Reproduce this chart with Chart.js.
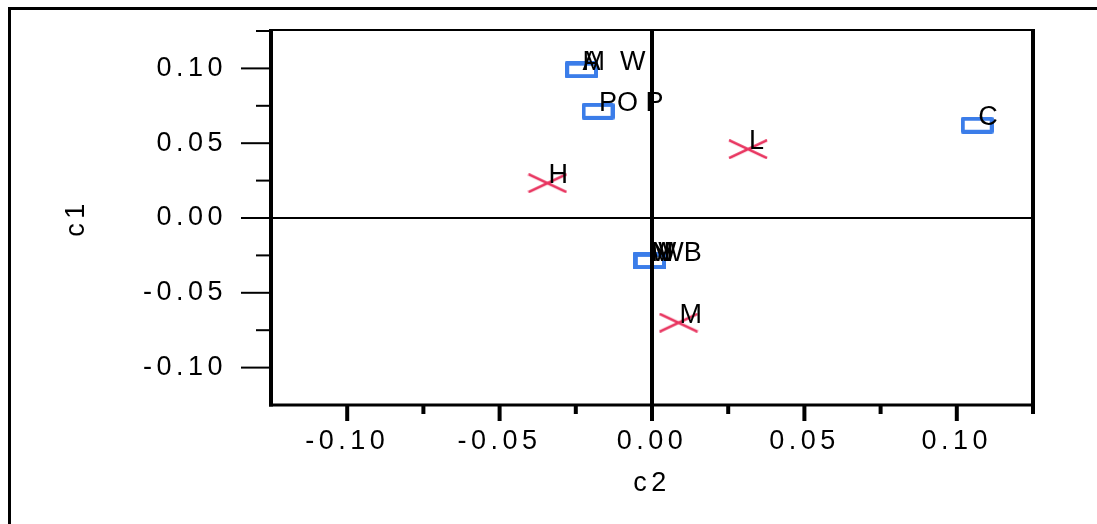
<!DOCTYPE html>
<html>
<head>
<meta charset="utf-8">
<script src="https://cdn.jsdelivr.net/npm/chart.js@4.4.1/dist/chart.umd.min.js"></script>
<style>
  html, body { margin: 0; padding: 0; background: #fff; overflow: hidden; }
  #wrap { position: relative; width: 1097px; height: 524px; }
  #frame { position: absolute; left: 8px; top: 7px; width: 2000px; height: 2000px;
           border-left: 3px solid #000; border-top: 3px solid #000; pointer-events: none; }
</style>
</head>
<body>
<div id="wrap">
  <canvas id="chart"></canvas>
  <div id="frame"></div>
</div>
<script>
// points drawn as blue boxes
const boxLabels = ['A', 'M  W', 'PO P', 'C', 'M', 'W', 'N', 'IWB'];
const boxX = [-0.0231, -0.0231, -0.0177, 0.1067, -0.0007, -0.0007, -0.0007, -0.0007];
const boxY = [0.0990, 0.0990, 0.0713, 0.0620, -0.0287, -0.0287, -0.0287, -0.0287];

// points drawn as red crosses
const crossLabels = ['H', 'L', 'M'];
const crossX = [-0.0343, 0.0315, 0.0087];
const crossY = [0.0233, 0.0460, -0.0700];

const axisMin = -0.125;
const axisMax = 0.125;
const tickStep = 0.025;
const xTitle = 'c2';
const yTitle = 'c1';

const FONT = "'Liberation Sans', Arial, sans-serif";

function boxMarker() {
  const c = document.createElement('canvas');
  c.width = 33; c.height = 17;
  const g = c.getContext('2d');
  g.strokeStyle = '#3b7de9';
  g.lineWidth = 4;
  g.lineJoin = 'round';
  g.strokeRect(2, 2, 29, 13);
  return c;
}

function crossMarker() {
  const c = document.createElement('canvas');
  c.width = 40; c.height = 20;
  const g = c.getContext('2d');
  g.strokeStyle = '#e8345f';
  g.lineWidth = 2.5;
  g.beginPath();
  g.moveTo(1, 1); g.lineTo(39, 19);
  g.moveTo(1, 19); g.lineTo(39, 1);
  g.stroke();
  return c;
}

function toPoints(xs, ys) {
  return xs.map((x, i) => ({ x: x, y: ys[i] }));
}

function isMajor(v) {
  return Math.abs(Math.round(v * 1000) % 50) === 0;
}

function tickText(v) {
  if (Math.abs(v) < 1e-9) return '0.00';
  if (Math.abs(Math.abs(v) - 0.125) < 1e-9) return '';
  return isMajor(v) ? v.toFixed(2) : '';
}

// letter spaced text for axes, plain text for the point labels
const spacing = {
  id: 'spacing',
  beforeDraw(chart) { chart.ctx.letterSpacing = '4.5px'; },
  beforeDatasetsDraw(chart) { chart.ctx.letterSpacing = '0px'; }
};

const axesAndLabels = {
  id: 'axesAndLabels',
  afterDatasetsDraw(chart) {
    const ctx = chart.ctx;
    const a = chart.chartArea;
    const xs = chart.scales.x, ys = chart.scales.y;
    ctx.save();
    ctx.strokeStyle = '#000';
    ctx.lineCap = 'butt';

    function line(x1, y1, x2, y2, w) {
      ctx.lineWidth = w;
      ctx.beginPath();
      ctx.moveTo(x1, y1);
      ctx.lineTo(x2, y2);
      ctx.stroke();
    }

    // zero lines
    const x0 = xs.getPixelForValue(0), y0 = ys.getPixelForValue(0);
    line(x0, a.top, x0, a.bottom, 4);
    line(a.left, y0, a.right, y0, 2);

    // frame of the plot
    line(a.left, a.top - 1, a.right, a.top - 1, 2);
    line(a.right, a.top - 2, a.right, a.bottom, 4);
    line(a.left - 2, a.bottom, a.right, a.bottom, 3);
    line(a.left, a.top - 2, a.left, a.bottom + 1.5, 4);

    // tick marks
    xs.ticks.forEach(t => {
      if (t.value <= axisMin + 1e-9) return;
      const px = xs.getPixelForValue(t.value);
      line(px, a.bottom, px, a.bottom + (isMajor(t.value) ? 16 : 9), 4);
    });
    ys.ticks.forEach(t => {
      if (t.value <= axisMin + 1e-9) return;
      const py = ys.getPixelForValue(t.value);
      line(a.left - (isMajor(t.value) ? 30 : 15), py, a.left, py, 2);
    });

    // point labels
    ctx.letterSpacing = '0px';
    ctx.fillStyle = '#000';
    ctx.font = '27px ' + FONT;
    ctx.textAlign = 'left';
    ctx.textBaseline = 'alphabetic';
    [boxLabels, crossLabels].forEach((labels, di) => {
      const meta = chart.getDatasetMeta(di);
      meta.data.forEach((pt, i) => {
        ctx.fillText(labels[i], pt.x + 1, pt.y);
      });
    });
    ctx.restore();
  }
};

new Chart(document.getElementById('chart'), {
  type: 'scatter',
  data: {
    datasets: [
      {
        data: toPoints(boxX, boxY),
        pointStyle: boxMarker(),
        pointRadius: 15
      },
      {
        data: toPoints(crossX, crossY),
        pointStyle: crossMarker(),
        pointRadius: 15
      }
    ]
  },
  options: {
    responsive: true,
    maintainAspectRatio: false,
    animation: false,
    layout: { padding: { top: 31, right: 64, left: 0, bottom: 0 } },
    plugins: { legend: { display: false }, tooltip: { enabled: false } },
    scales: {
      x: {
        type: 'linear',
        min: axisMin,
        max: axisMax,
        afterFit: s => { s.height = 119; },
        border: { display: false },
        // tick marks are drawn by the plugin, the hidden tick length only spaces the labels
        grid: { display: false, drawTicks: true, tickLength: 20 },
        ticks: {
          stepSize: tickStep,
          autoSkip: false,
          maxRotation: 0,
          padding: 0,
          color: '#000',
          font: { family: FONT, size: 27 },
          callback: v => tickText(v)
        },
        title: {
          display: true,
          text: xTitle,
          color: '#000',
          font: { family: FONT, size: 27 },
          padding: { top: 0, bottom: 24 }
        }
      },
      y: {
        type: 'linear',
        min: axisMin,
        max: axisMax,
        afterFit: s => { s.width = 271; },
        border: { display: false },
        grid: { display: false, drawTicks: true, tickLength: 44 },
        ticks: {
          stepSize: tickStep,
          autoSkip: false,
          padding: 0,
          color: '#000',
          font: { family: FONT, size: 27 },
          callback: v => tickText(v)
        },
        title: {
          display: true,
          text: yTitle,
          color: '#000',
          font: { family: FONT, size: 27 },
          padding: { top: 60, bottom: 0 }
        }
      }
    }
  },
  plugins: [spacing, axesAndLabels]
});
</script>
</body>
</html>
